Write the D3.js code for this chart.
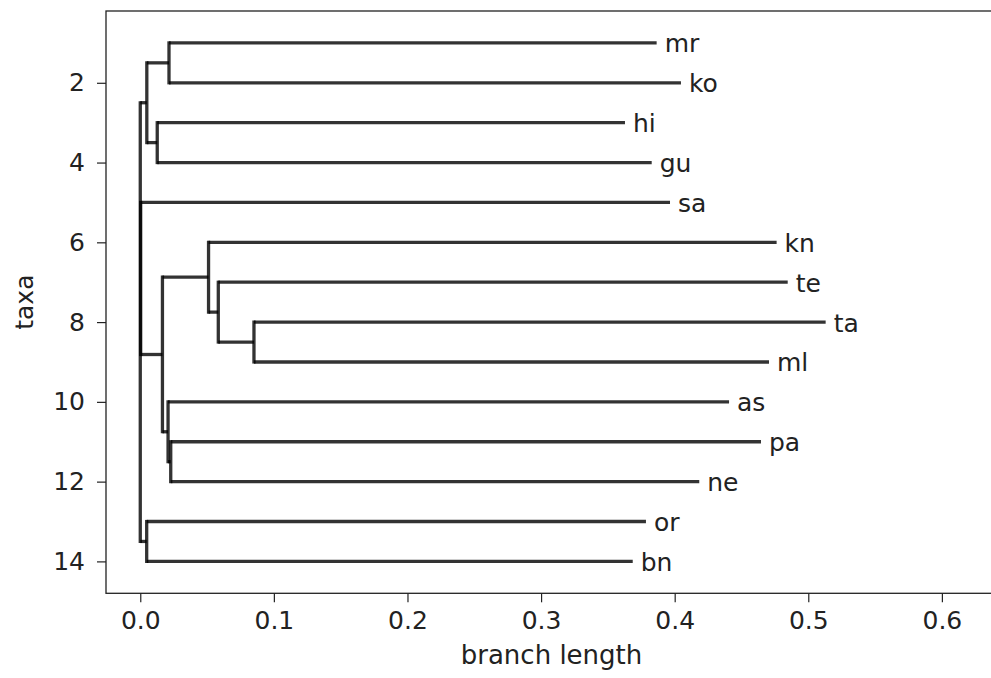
<!DOCTYPE html>
<html>
<head>
<meta charset="utf-8">
<script src="https://cdn.jsdelivr.net/npm/d3@7"></script>
<style>
  body { margin: 0; background: #fff; }
  text { font-family: "DejaVu Sans", sans-serif; fill: #222; }
</style>
</head>
<body>
<div id="chart"></div>
<script>
// leaves, top to bottom, with their distance from the root
const taxa = ["mr", "ko", "hi", "gu", "sa", "kn", "te", "ta", "ml", "as", "pa", "ne", "or", "bn"];
const tipDepth = [0.3865, 0.4047, 0.3628, 0.3828, 0.3965, 0.4763, 0.4846, 0.513, 0.4706, 0.4407, 0.4646, 0.4184, 0.3785, 0.3686];

// inner clades: name, distance from root, children
const cladeNames = ["root", "A", "MK", "HG", "N", "D", "E", "G", "H", "F", "I", "K"];
const cladeDepth = [0, 0.0049, 0.0215, 0.0127, 0.0003, 0.0166, 0.0511, 0.0584, 0.0851, 0.0208, 0.0228, 0.0048];
const cladeKids = [
    ["A", "N", "K"],
    ["MK", "HG"],
    ["mr", "ko"],
    ["hi", "gu"],
    ["sa", "D"],
    ["E", "F"],
    ["kn", "G"],
    ["te", "H"],
    ["ta", "ml"],
    ["as", "I"],
    ["pa", "ne"],
    ["or", "bn"]
];

const xTicks = [0, 0.1, 0.2, 0.3, 0.4, 0.5, 0.6];
const yTicks = [2, 4, 6, 8, 10, 12, 14];

const width = 991, height = 678;
const mLeft = 106, mTop = 11, plotW = 891, plotH = 582.3;

// build nested tree from the arrays
function build(name) {
    var ci = cladeNames.indexOf(name);
    if (ci >= 0) return { name: name, depth: cladeDepth[ci], children: cladeKids[ci].map(build) };
    var ti = taxa.indexOf(name);
    return { name: name, depth: tipDepth[ti], row: ti + 1 };
}
const root = d3.hierarchy(build("root"));
root.eachAfter(d => {
    d.yv = d.children ? (d.children[0].yv + d.children[d.children.length - 1].yv) / 2 : d.data.row;
});

const xmax = d3.max(tipDepth);
const x = d3.scaleLinear().domain([-0.05 * xmax, 1.25 * xmax]).range([mLeft, mLeft + plotW]);
const y = d3.scaleLinear().domain([0.2, taxa.length + 0.8]).range([mTop, mTop + plotH]);

const svg = d3.select('#chart').append("svg").attr("width", width).attr("height", height);
svg.append("rect").attr("width", width).attr("height", height).attr("fill", "#fff");

const g = svg.append("g");
const ink = { stroke: "#000", op: 0.8, w: 3.3 };

// horizontal branches
g.selectAll("line.h")
    .data(root.descendants().filter(d => d.parent))
    .enter().append("line")
    .attr("class", "h")
    .attr("x1", d => x(d.parent.data.depth))
    .attr("x2", d => x(d.data.depth))
    .attr("y1", d => y(d.yv))
    .attr("y2", d => y(d.yv))
    .attr("stroke", ink.stroke).attr("stroke-opacity", ink.op).attr("stroke-width", ink.w);

// vertical connectors
g.selectAll("line.v")
    .data(root.descendants().filter(d => d.children))
    .enter().append("line")
    .attr("class", "v")
    .attr("x1", d => x(d.data.depth))
    .attr("x2", d => x(d.data.depth))
    .attr("y1", d => y(d.children[0].yv) - 1.6)
    .attr("y2", d => y(d.children[d.children.length - 1].yv) + 1.6)
    .attr("stroke", ink.stroke).attr("stroke-opacity", ink.op).attr("stroke-width", ink.w);

// tip labels
g.selectAll("text.tip")
    .data(root.leaves())
    .enter().append("text")
    .attr("class", "tip")
    .attr("x", d => x(d.data.depth) + 8)
    .attr("y", d => y(d.yv))
    .attr("dy", "0.38em")
    .attr("font-size", 25)
    .text(d => d.data.name);

// axes
const xAxis = svg.append("g")
    .attr("transform", `translate(0, ${mTop + plotH})`)
    .call(d3.axisBottom(x).tickValues(xTicks).tickFormat(d3.format(".1f")).tickSize(9).tickPadding(9));
const yAxis = svg.append("g")
    .attr("transform", `translate(${mLeft}, 0)`)
    .call(d3.axisLeft(y).tickValues(yTicks).tickFormat(d3.format("d")).tickSize(9).tickPadding(12));
[xAxis, yAxis].forEach(a => {
    a.select(".domain").remove();
    a.selectAll(".tick line").attr("stroke", "#222").attr("stroke-width", 1.2);
    a.selectAll(".tick text").attr("font-size", 25).attr("font-family", "DejaVu Sans").attr("fill", "#222");
});

// frame
svg.append("rect")
    .attr("x", mLeft).attr("y", mTop).attr("width", plotW).attr("height", plotH)
    .attr("fill", "none").attr("stroke", "#222").attr("stroke-width", 1.3);

svg.append("text")
    .attr("x", mLeft + plotW / 2).attr("y", 664)
    .attr("text-anchor", "middle").attr("font-size", 26)
    .text("branch length");
svg.append("text")
    .attr("transform", `translate(33, ${mTop + plotH / 2}) rotate(-90)`)
    .attr("text-anchor", "middle").attr("font-size", 25)
    .text("taxa");
</script>
</body>
</html>
